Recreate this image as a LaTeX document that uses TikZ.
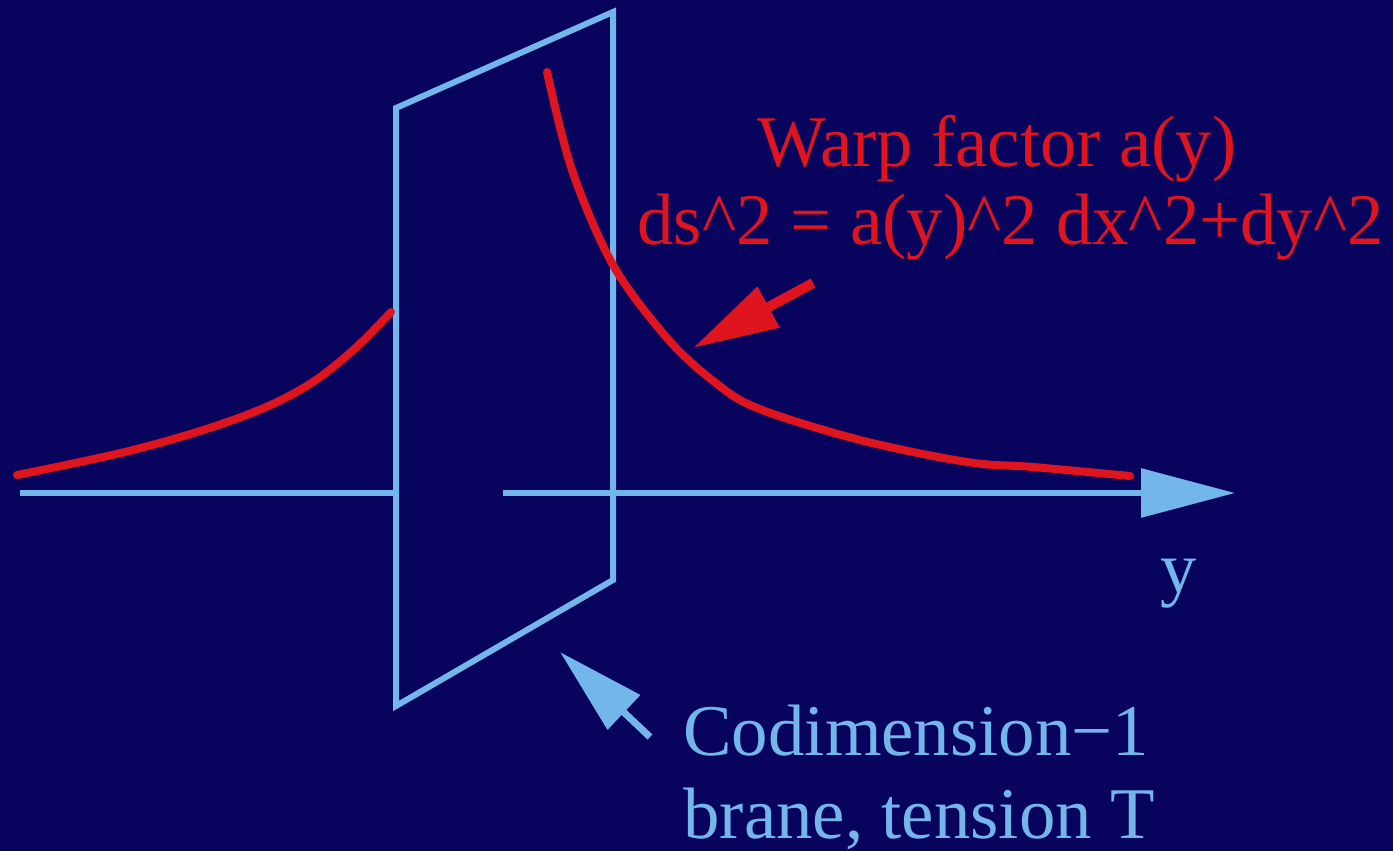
\documentclass[tikz,border=0pt]{standalone}
\usepackage{fontspec}
\setmainfont{Liberation Serif}
\usetikzlibrary{arrows.meta}
\definecolor{bg}{RGB}{8,3,92}
\definecolor{lblue}{RGB}{115,182,236}
\definecolor{wred}{RGB}{222,20,30}
\begin{document}
\begin{tikzpicture}[x=0.5pt,y=-0.5pt,
  braneline/.style={lblue,line width=3pt,line join=miter},
  warpcurve/.style={wred,line width=4pt,line cap=round},
  lbl/.style={inner sep=0pt,anchor=base west,font=\fontsize{36.4}{40}\selectfont}]
\fill[bg] (0,0) rectangle (1393,851);
\useasboundingbox (0,0) rectangle (1393,851);
% brane
\coordinate (bTL) at (396,108);
\coordinate (bTR) at (613,12);
\coordinate (bBR) at (613,580);
\coordinate (bBL) at (396,706);
\draw[braneline] (bTL) -- (bTR) -- (bBR) -- (bBL) -- cycle;
% axis
\coordinate (axA) at (20,493);
\coordinate (axB) at (396,493);
\coordinate (axC) at (503,493);
\coordinate (axD) at (1235,493);
\draw[braneline] (axA) -- (axB);
\draw[braneline,-{Triangle[length=47pt,width=24pt]}] (axC) -- (axD);
% warp factor curves
\draw[warpcurve] plot[smooth,tension=0.6] coordinates {(17,475) (133,450) (233,420) (300,390) (350,353) (391,312)};
\draw[warpcurve] plot[smooth,tension=0.55] coordinates {(547,72) (572,170) (613,265) (667,338) (712,380) (757,408) (860,440) (967,462) (1033,467) (1130,476)};
% labels
\node[lbl,text=wred] (warp) at (757,166) {Warp factor a(y)};
\node[lbl,text=wred] (metric) at (637,244) {ds\textasciicircum 2 = a(y)\textasciicircum 2 dx\textasciicircum 2+dy\textasciicircum 2};
\node[lbl,text=lblue] (codim) at (683,755) {Codimension−1};
\node[lbl,text=lblue] (tension) at (683,838) {brane, tension T};
\node[lbl,text=lblue] (ylab) at (1160,592) {y};
% pointer arrows
\coordinate (rtail) at (813,283);
\coordinate (rtip) at (693,348);
\draw[wred,line width=5pt,-{Triangle[length=43pt,width=22pt]}] (rtail) -- (rtip);
\coordinate (btail) at (650,737);
\coordinate (btip) at (560,652);
\draw[lblue,line width=3.5pt,-{Triangle[length=44pt,width=23pt]}] (btail) -- (btip);
\end{tikzpicture}
\end{document}
